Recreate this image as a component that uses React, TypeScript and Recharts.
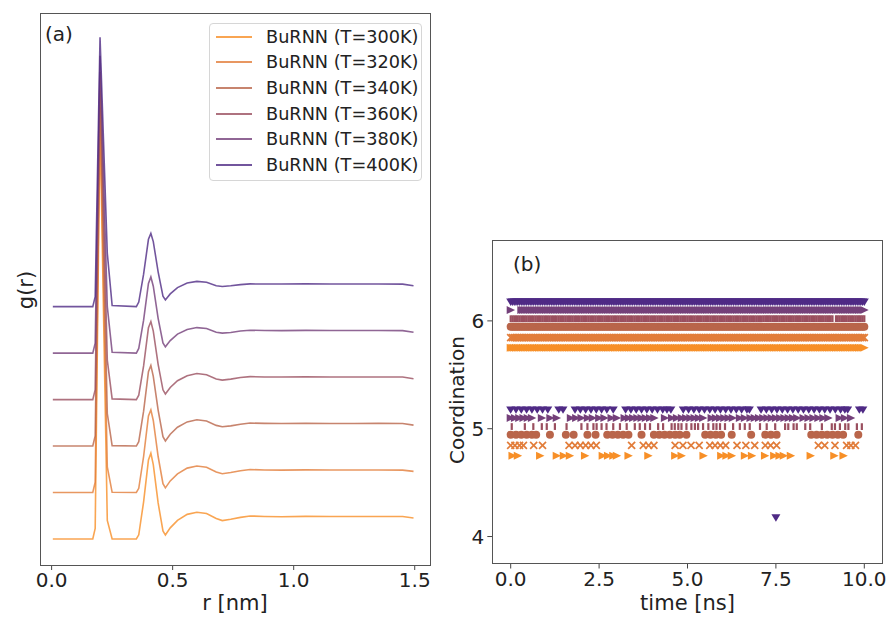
import React from "react";
import { Legend, Line, LineChart, Scatter, ScatterChart, XAxis, YAxis } from "recharts";

const TEMPS = ["300K", "320K", "340K", "360K", "380K", "400K"];
const COLORS = ["#f78f27", "#e27d3a", "#b9654a", "#9a4f5f", "#74407a", "#4f2a85"];

// (a) radial distribution functions
const R_NM = [0.005, 0.17, 0.18, 0.2, 0.23, 0.25, 0.35, 0.36, 0.38, 0.4, 0.41, 0.42, 0.44, 0.46, 0.47, 0.49, 0.52, 0.56, 0.6, 0.64, 0.68, 0.705, 0.74, 0.78, 0.82, 0.88, 0.95, 1.05, 1.15, 1.25, 1.35, 1.45, 1.495];
const G300 = [0, 0, 0.45, 18.0, 0.8, 0, 0, 0.18, 1.6, 3.4, 3.69, 3.2, 1.55, 0.35, 0.17, 0.48, 0.8, 1.06, 1.15, 1.1, 0.88, 0.79, 0.85, 0.93, 0.99, 0.97, 0.96, 0.975, 0.97, 0.965, 0.97, 0.965, 0.9];
const G320 = [0, 0, 0.44, 16.6, 1.1, 0.01, 0, 0.18, 1.55, 3.3, 3.56, 3.1, 1.55, 0.38, 0.2, 0.5, 0.8, 1.05, 1.14, 1.09, 0.88, 0.81, 0.86, 0.94, 0.99, 0.97, 0.965, 0.975, 0.97, 0.97, 0.97, 0.965, 0.91];
const G340 = [0, 0, 0.44, 15.3, 1.4, 0.02, 0, 0.19, 1.5, 3.2, 3.47, 3.0, 1.55, 0.4, 0.22, 0.51, 0.81, 1.04, 1.13, 1.08, 0.89, 0.83, 0.87, 0.94, 0.99, 0.975, 0.97, 0.975, 0.97, 0.97, 0.975, 0.97, 0.9];
const G360 = [0, 0, 0.43, 14.1, 1.7, 0.03, 0, 0.19, 1.45, 3.1, 3.36, 2.95, 1.52, 0.42, 0.24, 0.52, 0.81, 1.03, 1.12, 1.07, 0.89, 0.84, 0.88, 0.95, 0.99, 0.975, 0.97, 0.98, 0.975, 0.97, 0.975, 0.97, 0.9];
const G380 = [0, 0, 0.43, 12.8, 2.0, 0.04, 0, 0.2, 1.42, 3.0, 3.28, 2.88, 1.5, 0.44, 0.27, 0.54, 0.82, 1.02, 1.1, 1.06, 0.9, 0.86, 0.89, 0.95, 0.985, 0.975, 0.97, 0.98, 0.975, 0.975, 0.975, 0.97, 0.9];
const G400 = [0, 0, 0.43, 11.6, 2.3, 0.05, 0, 0.2, 1.4, 2.9, 3.15, 2.8, 1.5, 0.45, 0.29, 0.55, 0.82, 1.02, 1.09, 1.05, 0.9, 0.87, 0.9, 0.95, 0.98, 0.975, 0.975, 0.98, 0.975, 0.975, 0.975, 0.97, 0.9];
const RDF = [G300, G320, G340, G360, G380, G400];
const RDF_SHIFT = [0, 2, 4, 6, 8, 10];
const R_TICKS = [0, 0.5, 1, 1.5];

// (b) coordination number vs time
const FRAME_TIMES = Array.from({ length: 201 }, (_, i) => Math.round(i * 5) / 100);
const GAPS6 = [[], [], [], [9.15], [0.05, 0.1, 0.15, 0.2, 0.25], []];
const T5_300 = [0.05, 0.2, 0.83, 1.3, 1.5, 1.67, 2.1, 2.6, 2.75, 2.9, 3.0, 3.33, 3.89, 4.65, 4.83, 5.45, 5.95, 6.1, 6.25, 6.62, 6.82, 7.19, 7.45, 7.6, 7.72, 7.92, 8.48, 9.15, 9.41];
const T5_320 = [0, 0.12, 0.25, 0.36, 0.65, 0.9, 1.65, 1.82, 1.97, 2.12, 2.27, 2.42, 3.42, 3.75, 3.9, 4.05, 4.65, 4.87, 5.1, 5.33, 5.63, 5.78, 5.93, 6.08, 6.4, 6.65, 6.9, 7.2, 7.35, 7.52, 8.7, 8.88, 9.17, 9.5, 9.62, 9.75];
const T5_340 = [0, 0.15, 0.3, 0.45, 0.6, 0.72, 1.11, 1.56, 1.78, 2.17, 2.4, 2.73, 2.88, 3.03, 3.18, 3.33, 3.7, 4.05, 4.2, 4.35, 4.5, 4.65, 4.78, 4.97, 5.5, 5.65, 5.8, 5.95, 6.25, 6.8, 7.2, 7.36, 7.52, 8.5, 8.65, 8.8, 8.95, 9.1, 9.25, 9.4, 9.83];
const T5_360 = [0.03, 0.4, 0.64, 0.88, 1.02, 1.25, 1.58, 2.0, 2.17, 2.34, 2.43, 2.57, 2.71, 2.9, 3.09, 3.28, 3.51, 3.65, 3.8, 3.94, 4.17, 4.31, 4.55, 4.64, 4.74, 4.83, 4.97, 5.11, 5.21, 5.3, 5.44, 5.59, 5.73, 5.82, 5.92, 6.06, 6.29, 6.48, 6.62, 6.76, 7.05, 7.24, 7.48, 7.76, 7.85, 8.0, 8.09, 8.33, 8.47, 8.8, 9.08, 9.17, 9.31, 9.46, 9.55, 9.79, 9.93];
const T5_380 = [0, 0.12, 0.24, 0.36, 0.48, 0.6, 0.88, 1.12, 1.3, 1.7, 1.85, 2.0, 2.18, 2.32, 2.5, 2.65, 2.85, 3.0, 3.22, 3.34, 3.46, 3.58, 3.7, 3.82, 3.94, 4.06, 4.36, 4.56, 4.7, 4.84, 4.96, 5.08, 5.2, 5.32, 5.44, 5.68, 5.8, 5.92, 6.04, 6.16, 6.28, 6.48, 6.62, 6.78, 6.9, 7.02, 7.14, 7.26, 7.38, 7.5, 7.62, 7.74, 7.86, 7.98, 8.1, 8.28, 8.42, 8.56, 8.7, 8.84, 8.98, 9.3, 9.45, 9.62];
const T5_400 = [0, 0.15, 0.3, 0.45, 0.6, 0.75, 0.9, 1.05, 1.36, 1.48, 1.82, 1.97, 2.12, 2.27, 2.42, 2.57, 2.72, 2.9, 3.25, 3.4, 3.55, 3.7, 3.85, 4.0, 4.15, 4.3, 4.42, 4.53, 4.88, 5.03, 5.18, 5.33, 5.48, 5.63, 5.78, 5.93, 6.08, 6.23, 6.38, 6.53, 6.68, 6.75, 7.08, 7.23, 7.38, 7.53, 7.68, 7.83, 7.98, 8.13, 8.28, 8.43, 8.58, 8.73, 8.88, 9.03, 9.18, 9.33, 9.45, 9.53, 9.86, 9.96];
const T5 = [T5_300, T5_320, T5_340, T5_360, T5_380, T5_400];
const T4 = [[], [], [], [], [], [7.5]];
const ROW_JITTER = [-0.25, -0.155, -0.055, 0.02, 0.1, 0.175];
const MARKERS = ["right", "x", "o", "vline", "right", "down"];
const TIME_TICKS = [0, 2.5, 5, 7.5, 10];
const COORD_TICKS = [4, 5, 6];

const rdfRows = R_NM.map((r, i) => {
  const row: Record<string, number> = { r };
  TEMPS.forEach((t, k) => {
    row[t] = RDF[k][i] + RDF_SHIFT[k];
  });
  return row;
});

const coordSeries = TEMPS.map((_, k) => [
  ...FRAME_TIMES.filter((t) => !GAPS6[k].some((g) => Math.abs(g - t) < 1e-6)).map((t) => ({ t, c: 6 + ROW_JITTER[k] })),
  ...T5[k].map((t) => ({ t, c: 5 + ROW_JITTER[k] })),
  ...T4[k].map((t) => ({ t, c: 4 + ROW_JITTER[k] })),
]);

function Marker({ cx, cy, kind, color }: { cx: number; cy: number; kind: string; color: string }) {
  if (cx == null || cy == null) return null;
  if (kind === "right")
    return <polygon points={`${cx - 4},${cy - 4} ${cx + 4.4},${cy} ${cx - 4},${cy + 4}`} fill={color} />;
  if (kind === "down")
    return <polygon points={`${cx - 4.5},${cy - 3.4} ${cx + 4.5},${cy - 3.4} ${cx},${cy + 4}`} fill={color} />;
  if (kind === "o") return <circle cx={cx} cy={cy} r={4} fill={color} />;
  if (kind === "vline") return <line x1={cx} x2={cx} y1={cy - 3.4} y2={cy + 3.4} stroke={color} strokeWidth={2.2} />;
  return (
    <g stroke={color} strokeWidth={1.7}>
      <line x1={cx - 3.5} y1={cy - 3.5} x2={cx + 3.5} y2={cy + 3.5} />
      <line x1={cx - 3.5} y1={cy + 3.5} x2={cx + 3.5} y2={cy - 3.5} />
    </g>
  );
}

function RdfLegend({ payload }: any) {
  return (
    <div
      style={{
        boxSizing: "border-box",
        width: 213,
        height: 158,
        border: "1px solid #d6d6d6",
        borderRadius: 4,
        background: "rgba(255,255,255,0.8)",
      }}
    >
      {(payload || []).map((p: any) => (
        <div key={p.value} style={{ display: "flex", alignItems: "center", height: 25.6 }}>
          <div style={{ marginLeft: 6, width: 36, height: 2, background: p.color, opacity: 0.8 }} />
          <span style={{ marginLeft: 14, fontSize: 17.7, color: "#222", whiteSpace: "nowrap" }}>{p.value}</span>
        </div>
      ))}
    </div>
  );
}

const tickStyle = { fill: "#222", fontSize: 20 };
const frame = { position: "absolute" as const, boxSizing: "border-box" as const, border: "1px solid #555", pointerEvents: "none" as const };
const text = { position: "absolute" as const, fontSize: 20, lineHeight: "20px", color: "#222", whiteSpace: "nowrap" as const };

export default function App() {
  return (
    <div style={{ position: "absolute", left: 0, top: 0, width: 890, height: 617, background: "#fff", fontFamily: "'DejaVu Sans', sans-serif" }}>
      <LineChart
        width={445}
        height={617}
        data={rdfRows}
        margin={{ top: 13.5, right: 14.3, bottom: 0, left: 40 }}
        style={{ position: "absolute", left: 0, top: 0 }}
      >
        <XAxis
          dataKey="r"
          type="number"
          domain={[-0.048, 1.566]}
          ticks={R_TICKS}
          interval={0}
          tickFormatter={(v: number) => v.toFixed(1)}
          height={52}
          axisLine={false}
          tickSize={5}
          tickMargin={3}
          tick={tickStyle}
          tickLine={{ stroke: "#444" }}
          allowDataOverflow
        />
        <YAxis type="number" domain={[-1.12, 22.62]} hide allowDataOverflow />
        {TEMPS.map((t, k) => (
          <Line
            key={t}
            dataKey={t}
            name={`BuRNN (T=${t})`}
            type="linear"
            stroke={COLORS[k]}
            strokeOpacity={0.8}
            strokeWidth={1.6}
            dot={false}
            isAnimationActive={false}
          />
        ))}
        <Legend
          layout="horizontal"
          verticalAlign="middle"
          align="center"
          wrapperStyle={{ left: 209, top: 23, width: 213, height: 158 }}
          content={RdfLegend}
        />
      </LineChart>

      <ScatterChart
        width={460}
        height={617}
        margin={{ top: 240, right: 7.3, bottom: 0, left: 12.3 }}
        style={{ position: "absolute", left: 430, top: 0 }}
      >
        <XAxis
          dataKey="t"
          type="number"
          domain={[-0.52, 10.52]}
          ticks={TIME_TICKS}
          interval={0}
          tickFormatter={(v: number) => v.toFixed(1)}
          height={53.5}
          axisLine={false}
          tickSize={5}
          tickMargin={3}
          tick={tickStyle}
          tickLine={{ stroke: "#444" }}
          allowDataOverflow
        />
        <YAxis
          dataKey="c"
          type="number"
          domain={[3.75, 6.75]}
          ticks={COORD_TICKS}
          interval={0}
          width={50}
          axisLine={false}
          tickSize={5}
          tickMargin={3}
          tick={tickStyle}
          tickLine={{ stroke: "#444" }}
          allowDataOverflow
        />
        {TEMPS.map((t, k) => (
          <Scatter
            key={t}
            name={t}
            data={coordSeries[k]}
            fill={COLORS[k]}
            isAnimationActive={false}
            shape={(p: any) => <Marker cx={p.cx} cy={p.cy} kind={MARKERS[k]} color={COLORS[k]} />}
          />
        ))}
      </ScatterChart>

      <div style={{ ...frame, left: 40, top: 13, width: 391, height: 553 }} />
      <div style={{ ...frame, left: 492, top: 240, width: 391, height: 324 }} />

      <div style={{ ...text, left: 45, top: 24 }}>(a)</div>
      <div style={{ ...text, left: 513, top: 254 }}>(b)</div>
      <div style={{ ...text, fontSize: 21, left: 235, top: 593, transform: "translateX(-50%)" }}>r [nm]</div>
      <div style={{ ...text, fontSize: 21, left: 687.5, top: 593, transform: "translateX(-50%)" }}>time [ns]</div>
      <div style={{ ...text, fontSize: 21, left: 26, top: 290, transform: "translate(-50%, -50%) rotate(-90deg)" }}>g(r)</div>
      <div style={{ ...text, left: 456.7, top: 400, transform: "translate(-50%, -50%) rotate(-90deg)" }}>Coordination</div>
    </div>
  );
}
